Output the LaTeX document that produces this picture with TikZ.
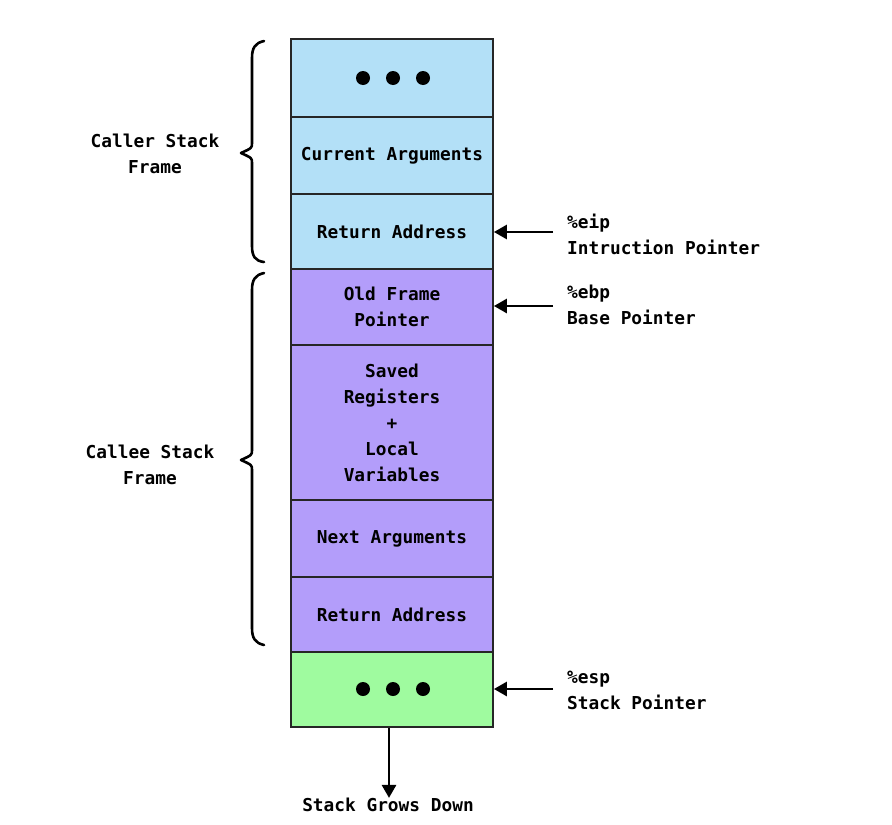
\documentclass[tikz,border=0pt]{standalone}
\usepackage{fontspec}
\setmonofont{DejaVu Sans Mono}
\usetikzlibrary{arrows.meta}
\definecolor{cblue}{HTML}{B3E0F7}
\definecolor{cpurple}{HTML}{B39DFA}
\definecolor{cgreen}{HTML}{9FFB9F}
\tikzset{
  box/.style={draw=black!85, line width=1.8pt, minimum width=202pt, inner sep=0pt, align=center,
    font=\ttfamily\bfseries\fontsize{17.8}{26}\selectfont},
  lbl/.style={align=center, inner sep=0pt, font=\ttfamily\bfseries\fontsize{17.8}{26}\selectfont},
  rlbl/.style={align=left, anchor=west, inner sep=0pt, font=\ttfamily\bfseries\fontsize{17.8}{26}\selectfont},
  arr/.style={line width=2.8pt, -{Triangle[length=13pt,width=14pt]}},
  brace/.style={line width=2.6pt, line cap=round, line join=round},
  dot/.style={circle, fill=black, inner sep=0pt, minimum size=14pt}
}
\begin{document}
\begin{tikzpicture}[x=1pt,y=-1pt]
\useasboundingbox (0,0) rectangle (892,825);
\fill[white] (0,0) rectangle (892,825);
% stack boxes
\node[box, fill=cblue, minimum height=78pt] (r1) at (392,78) {};
\node[box, fill=cblue, minimum height=77pt] (r2) at (392,155.5) {Current Arguments};
\node[box, fill=cblue, minimum height=75pt] (r3) at (392,231.5) {Return Address};
\node[box, fill=cpurple, minimum height=76pt] (r4) at (392,307) {Old Frame\\Pointer};
\node[box, fill=cpurple, minimum height=155pt] (r5) at (392,422.5) {Saved\\Registers\\+\\Local\\Variables};
\node[box, fill=cpurple, minimum height=77pt] (r6) at (392,538.5) {Next Arguments};
\node[box, fill=cpurple, minimum height=75pt] (r7) at (392,614.5) {Return Address};
\node[box, fill=cgreen, minimum height=75pt] (r8) at (392,689.5) {};
% dots
\node[dot] (d1) at (363,78) {};
\node[dot] (d2) at (393,78) {};
\node[dot] (d3) at (423,78) {};
\node[dot] (d4) at (363,689) {};
\node[dot] (d5) at (393,689) {};
\node[dot] (d6) at (423,689) {};
% braces
\draw[brace] (264,41) .. controls (255,43) and (252,48) .. (252,58) -- (252,143)
  .. controls (252,148) .. (241,153) .. controls (252,158) .. (252,163) -- (252,246)
  .. controls (252,256) and (255,261) .. (264,262);
\draw[brace] (264,273) .. controls (255,275) and (252,280) .. (252,290) -- (252,450)
  .. controls (252,455) .. (241,460) .. controls (252,465) .. (252,470) -- (252,628)
  .. controls (252,638) and (255,643) .. (264,645);
% left labels
\node[lbl] (caller) at (155,154) {Caller Stack\\Frame};
\node[lbl] (callee) at (150,465) {Callee Stack\\Frame};
% right pointers
\coordinate (a1) at (553,232);
\coordinate (a2) at (553,306);
\coordinate (a3) at (553,689);
\draw[arr] (a1) -- (r3.east |- a1);
\draw[arr] (a2) -- (r4.east |- a2);
\draw[arr] (a3) -- (r8.east |- a3);
\node[rlbl] (eip) at (567,234) {\%eip\\Intruction Pointer};
\node[rlbl] (ebp) at (567,305) {\%ebp\\Base Pointer};
\node[rlbl] (esp) at (567,690) {\%esp\\Stack Pointer};
% grows down
\node[lbl] (grow) at (388,805) {Stack Grows Down};
\draw[arr] (r8.south -| 389,0) -- (grow.north -| 389,0) ;
\end{tikzpicture}
\end{document}
